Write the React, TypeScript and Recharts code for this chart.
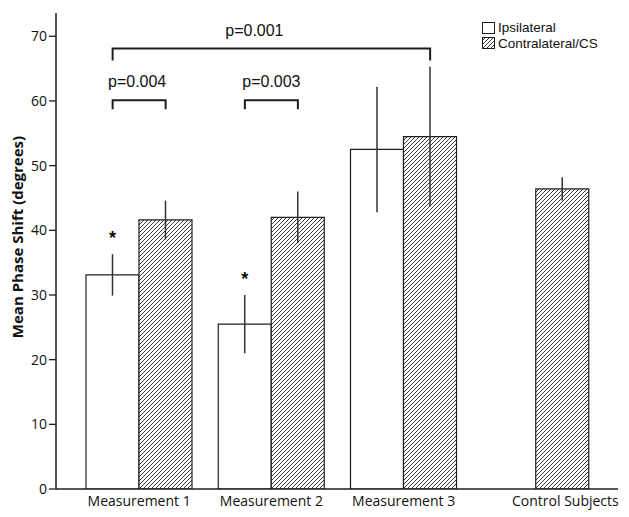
import React from 'react';
import { BarChart, Bar, XAxis, YAxis, ErrorBar, ReferenceLine, LabelList } from 'recharts';

const categories = ['Measurement 1', 'Measurement 2', 'Measurement 3', 'Control Subjects'];
const ipsilateral = [33.1, 25.5, 52.5, null];
const ipsilateralErr = [3.2, 4.5, 9.7, null];
const contralateral = [41.6, 42.0, 54.5, 46.4];
const contralateralErr = [3.0, 4.0, 10.8, 1.8];
const ipsilateralMarks = ['*', '*', '', ''];
const yTicks = [0, 10, 20, 30, 40, 50, 60, 70];

const bracketLabels = ['p=0.001', 'p=0.004', 'p=0.003'];
const bracketFrom = ['Measurement 1', 'Measurement 1', 'Measurement 2'];
const bracketTo = ['Measurement 3', 'Measurement 1', 'Measurement 2'];
const bracketLevel = [68.1, 60.1, 60.1];

const data = categories.map((name, i) => ({
  name,
  ipsi: ipsilateral[i],
  ipsiErr: ipsilateralErr[i],
  contra: contralateral[i],
  contraErr: contralateralErr[i],
  mark: ipsilateralMarks[i],
}));

const BAR = 53;
const INK = '#1e1e1e';
const FONT = '"Open Sans", sans-serif';
// leg length and label nudge for each bracket
const bracketLeg = [12, 9, 9];
const bracketTextShift = [-17, -2, 0];

const Hatch = ({ id }: { id: string }) => (
  <pattern id={id} patternUnits="userSpaceOnUse" width={4} height={4}>
    <rect width={4} height={4} fill="#fff" />
    <path d="M-1,1 L1,-1 M0,4 L4,0 M3,5 L5,3" stroke="#222" strokeWidth={0.9} />
  </pattern>
);

const makeBracket = (i: number) => (props: any) => {
  const { x1, x2, y1 } = props;
  const l = Math.min(x1, x2) - BAR / 2;
  const r = Math.max(x1, x2) + BAR / 2;
  const leg = bracketLeg[i];
  return (
    <g>
      <path d={`M${l},${y1 + leg}V${y1}H${r}V${y1 + leg}`} fill="none" stroke={INK} strokeWidth={2} />
      <text x={(l + r) / 2 + bracketTextShift[i]} y={y1 - 13} textAnchor="middle" fontFamily='"Liberation Sans", Arial, sans-serif' fontSize={16} fill="#111">
        {bracketLabels[i]}
      </text>
    </g>
  );
};

const Star = (props: any) => {
  const vb = props.viewBox || props;
  const x = props.x ?? vb.x;
  const y = props.y ?? vb.y;
  const width = props.width ?? vb.width;
  const height = props.height ?? vb.height;
  const { value, index } = props;
  if (!value) return null;
  const v = ipsilateral[index] as number;
  const e = ipsilateralErr[index] as number;
  const top = y - (height * e) / v;
  return (
    <text x={x + width / 2} y={top - 10} textAnchor="middle" fontFamily='"Liberation Sans", Arial, sans-serif' fontSize={18} fontWeight="bold" fill="#111">
      {value}
    </text>
  );
};

const XTick = (props: any) => {
  const { x, y, payload, index } = props;
  const shift = ipsilateral[index] == null ? BAR / 2 + 3 : 0;
  return (
    <text x={x + shift} y={y + 17} textAnchor="middle" fontFamily={FONT} fontSize={14} fill="#111">
      {payload.value}
    </text>
  );
};

const YTitle = (props: any) => {
  const vb = props.viewBox;
  const cx = vb.x + 17;
  const cy = vb.y + vb.height / 2 - 14;
  return (
    <text x={cx} y={cy} transform={`rotate(-90 ${cx} ${cy})`} textAnchor="middle" dominantBaseline="central" fontFamily={FONT} fontSize={15} fontWeight="bold" fill="#111">
      Mean Phase Shift (degrees)
    </text>
  );
};

const LegendBox = () => (
  <div style={{ position: 'absolute', left: 482, top: 20, fontFamily: '"Liberation Sans", Arial, sans-serif', fontSize: 13.5, color: '#111', lineHeight: '15.5px' }}>
    <div style={{ display: 'flex', alignItems: 'center', height: 15.5 }}>
      <svg width={15} height={12} style={{ flex: 'none' }}>
        <rect x={0.5} y={0.5} width={12} height={11} fill="#fff" stroke={INK} />
      </svg>
      <span style={{ marginLeft: 1 }}>Ipsilateral</span>
    </div>
    <div style={{ display: 'flex', alignItems: 'center', height: 15.5 }}>
      <svg width={15} height={12} style={{ flex: 'none' }}>
        <defs>
          <Hatch id="hatchLegend" />
        </defs>
        <rect x={0.5} y={0.5} width={12} height={11} fill="url(#hatchLegend)" stroke={INK} />
      </svg>
      <span style={{ marginLeft: 1 }}>Contralateral/CS</span>
    </div>
  </div>
);

export default function App() {
  return (
    <div style={{ position: 'relative', width: 629, height: 517, background: '#fff' }}>
      <style>{'body{margin:0}'}</style>
      <BarChart width={629} height={517} data={data} margin={{ top: 13, right: 11, left: 0, bottom: 0 }} barGap={0} barSize={BAR}>
        <defs>
          <Hatch id="hatchBar" />
        </defs>
        <XAxis dataKey="name" height={28} padding={{ left: 17, right: 16 }} tickLine={false} tickSize={0} tickMargin={0} tick={<XTick />} axisLine={{ stroke: INK, strokeWidth: 1.5 }} interval={0} />
        <XAxis xAxisId="top" dataKey="name" orientation="top" height={0} tick={false} tickLine={false} axisLine={{ stroke: INK, strokeWidth: 1.5 }} />
        <YAxis domain={[0, 73.6]} ticks={yTicks} allowDataOverflow width={56} tickSize={7} tickMargin={2} tickLine={{ stroke: INK, strokeWidth: 1.3 }} axisLine={{ stroke: INK, strokeWidth: 1.5 }} tick={{ fontFamily: FONT, fontSize: 14, fill: '#111' }} label={<YTitle />} />
        <YAxis yAxisId="right" orientation="right" width={0} tick={false} tickLine={false} axisLine={{ stroke: INK, strokeWidth: 1.5 }} />
        <Bar dataKey="ipsi" fill="#fff" stroke={INK} strokeWidth={1.2} isAnimationActive={false}>
          <ErrorBar dataKey="ipsiErr" width={0} stroke="#333" strokeWidth={1.5} />
          <LabelList dataKey="mark" content={<Star />} />
        </Bar>
        <Bar dataKey="contra" fill="url(#hatchBar)" stroke={INK} strokeWidth={1.2} isAnimationActive={false}>
          <ErrorBar dataKey="contraErr" width={0} stroke="#333" strokeWidth={1.5} />
        </Bar>
        {bracketLabels.map((lab, i) => (
          <ReferenceLine
            key={lab}
            segment={[
              { x: bracketFrom[i], y: bracketLevel[i] },
              { x: bracketTo[i], y: bracketLevel[i] },
            ]}
            shape={makeBracket(i)}
          />
        ))}
      </BarChart>
      <LegendBox />
    </div>
  );
}
